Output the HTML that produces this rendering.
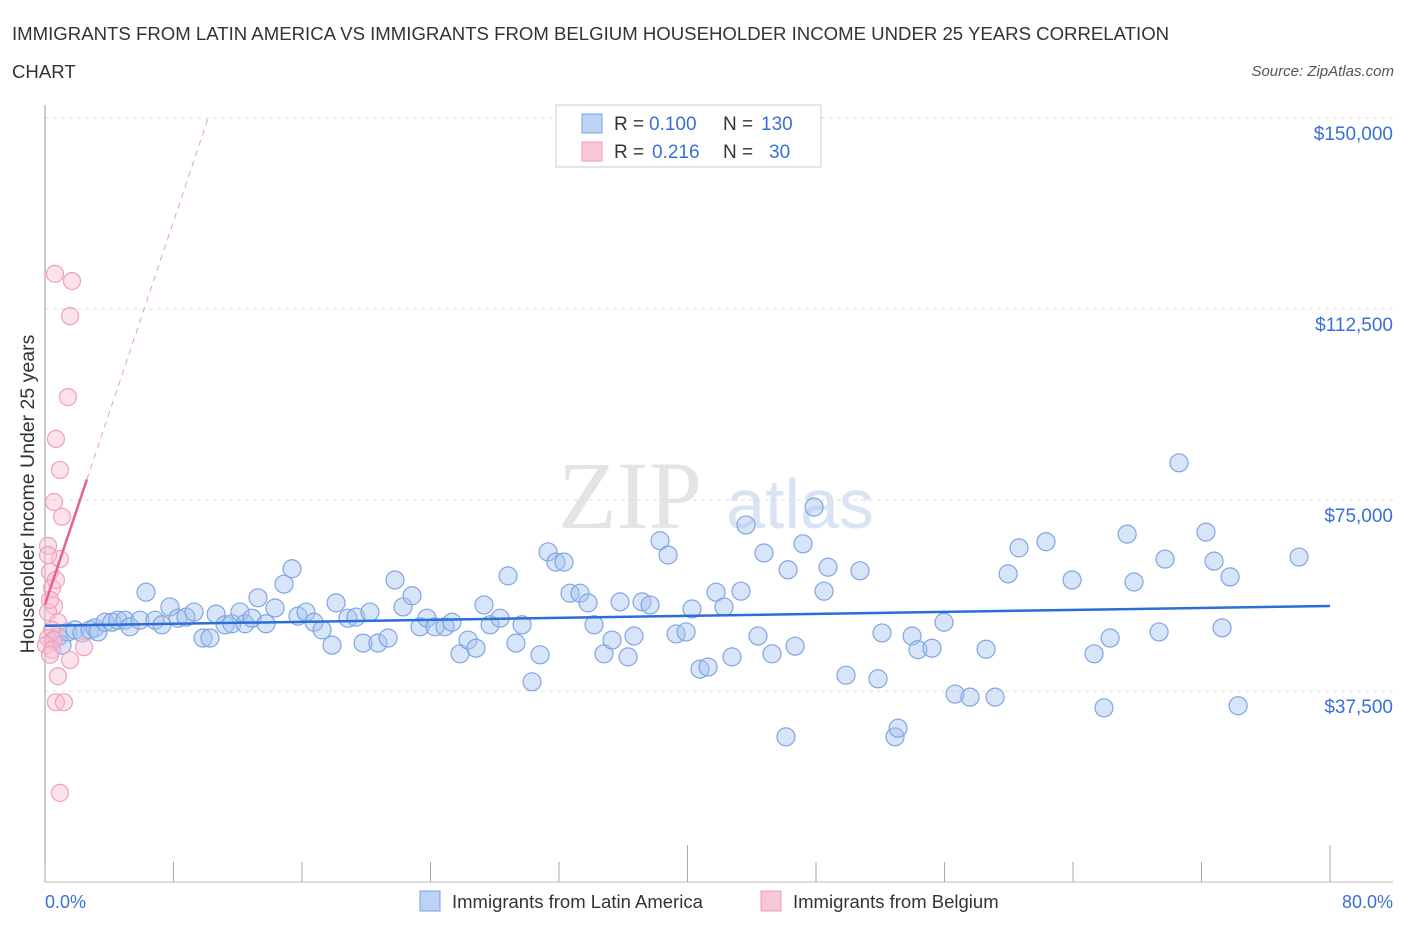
<!DOCTYPE html>
<html><head><meta charset="utf-8"><style>
body{margin:0;background:#fff;font-family:"Liberation Sans",sans-serif;}
svg text{font-family:"Liberation Sans",sans-serif;}
</style></head><body>
<svg id="chart" width="1406" height="930">
<text x="12" y="40" font-size="18.6" fill="#333">IMMIGRANTS FROM LATIN AMERICA VS IMMIGRANTS FROM BELGIUM HOUSEHOLDER INCOME UNDER 25 YEARS CORRELATION</text>
<text x="12" y="78" font-size="18.6" fill="#333">CHART</text>
<text x="1394" y="76" font-size="15" fill="#555" font-style="italic" text-anchor="end">Source: ZipAtlas.com</text>
<text x="630" y="528" font-size="96" fill="#e4e4e4" text-anchor="middle" style="font-family:'Liberation Serif',serif">ZIP</text>
<text x="800" y="528" font-size="70" fill="#d8e4f4" text-anchor="middle">atlas</text>
<g id="grid"></g>
<g id="axes"></g>
<g id="marks"></g>
<text transform="translate(34,494) rotate(-90)" font-size="19.5" fill="#333" text-anchor="middle">Householder Income Under 25 years</text>
<text x="45" y="908" font-size="18" fill="#3a6fd8">0.0%</text>
<text x="1393" y="908" font-size="18" fill="#3a6fd8" text-anchor="end">80.0%</text>
<g>
<rect x="556" y="105" width="265" height="62" fill="#fff" stroke="#ccc"/>
<rect x="582" y="114" width="20" height="19" fill="#bcd3f5" stroke="#7aa3e0"/>
<rect x="582" y="142" width="20" height="19" fill="#f9c8d8" stroke="#f09ab8"/>
<text x="614" y="130" font-size="19" fill="#333">R =</text>
<text x="649" y="130" font-size="19" fill="#3a6fd8">0.100</text>
<text x="723" y="130" font-size="19" fill="#333">N =</text>
<text x="761" y="130" font-size="19" fill="#3a6fd8">130</text>
<text x="614" y="158" font-size="19" fill="#333">R =</text>
<text x="652" y="158" font-size="19" fill="#3a6fd8">0.216</text>
<text x="723" y="158" font-size="19" fill="#333">N =</text>
<text x="769" y="158" font-size="19" fill="#3a6fd8">30</text>
</g>
<g>
<rect x="420" y="891" width="20" height="20" fill="#bcd3f5" stroke="#7aa3e0"/>
<text x="452" y="908" font-size="18.5" fill="#333">Immigrants from Latin America</text>
<rect x="761" y="891" width="20" height="20" fill="#f9c8d8" stroke="#f09ab8"/>
<text x="793" y="908" font-size="18.5" fill="#333">Immigrants from Belgium</text>
</g>
</svg>
<script>
const yTicks=[37.5,75,112.5,150];
const yTickLabels=["$37,500","$75,000","$112,500","$150,000"];
const xTicks=[0,8,16,24,32,40,48,56,64,72,80];
const blueX=[0.50,0.81,1.06,1.43,1.87,2.30,2.80,3.11,3.30,3.74,4.17,4.54,4.98,5.29,5.91,6.29,6.85,7.28,7.78,8.28,8.78,9.28,9.84,10.27,10.65,11.21,11.64,12.14,12.45,12.89,13.26,13.76,14.32,14.88,15.38,15.75,16.25,16.75,17.25,17.87,18.12,18.86,19.36,19.80,20.23,20.73,21.36,21.79,22.29,22.85,23.35,23.78,24.28,24.90,25.34,25.84,26.34,26.83,27.33,27.71,28.33,28.83,29.32,29.70,30.32,30.82,31.32,31.81,32.31,32.69,33.31,33.81,34.18,34.80,35.30,35.80,36.30,36.67,37.17,37.67,38.29,38.79,39.29,39.91,40.28,40.78,41.28,41.78,42.27,42.77,43.33,43.64,44.39,44.76,45.26,46.13,46.26,46.70,47.19,47.88,48.50,48.75,49.87,50.74,51.86,52.11,52.92,53.11,53.98,54.35,55.22,55.97,56.66,57.59,58.59,59.15,59.96,60.64,62.32,63.94,65.31,65.93,66.31,67.37,67.80,69.73,69.36,70.60,72.28,72.78,73.28,73.78,74.28,78.07];
const blueY=[47.5,48.1,46.5,49.1,49.5,48.9,49.5,49.9,49.1,51.0,51.0,51.4,51.4,50.1,51.4,56.9,51.4,50.5,54.0,51.8,52.0,53.0,47.9,47.9,52.6,50.5,50.7,53.0,50.7,51.8,55.8,50.7,53.8,58.5,61.5,52.2,53.0,51.0,49.5,46.5,54.8,51.8,52.0,46.9,53.0,46.9,47.9,59.3,54.0,56.2,50.1,51.8,50.1,50.1,51.0,44.8,47.5,45.9,54.4,50.5,51.8,60.1,46.9,50.5,39.3,44.6,64.8,62.8,62.8,56.7,56.7,54.8,50.5,44.8,47.5,55.0,44.2,48.3,55.0,54.4,67.0,64.2,48.7,49.1,53.6,41.8,42.2,56.9,54.0,44.2,57.1,70.1,48.3,64.6,44.8,28.5,61.3,46.3,66.4,73.6,57.1,61.8,40.6,61.1,39.9,48.9,28.5,30.2,48.3,45.6,45.9,51.0,36.9,36.3,45.7,36.3,60.5,65.6,66.8,59.3,44.8,34.2,47.9,68.3,58.9,63.4,49.1,82.3,68.7,63.0,49.9,59.9,34.6,63.8];
const pinkX=[0.62,1.68,1.56,1.43,0.68,0.93,0.56,1.06,0.19,0.93,0.31,0.44,0.56,0.19,0.81,0.44,0.19,0.56,0.06,0.44,0.31,1.56,0.81,2.43,0.68,1.18,0.93,0.19,0.68,0.31];
const pinkY=[119.4,118.0,111.1,95.2,87.0,80.9,74.6,71.7,66.0,63.4,60.9,57.7,54.2,53.0,51.0,49.5,47.9,47.5,46.5,45.6,44.6,43.6,40.4,46.1,35.3,35.3,17.5,64.2,59.3,55.4];
const blueTrend=[50.3,54.2];
const pinkTrend=[54.5,9.4];

const NS="http://www.w3.org/2000/svg";
const X0=45,X1=1330,Y0=882;
function sx(p){return X0+(p/80)*(X1-X0);}
function sy(v){return Y0-v*191/37.5;}
function mk(tag,attrs,parent){const e=document.createElementNS(NS,tag);for(const k in attrs)e.setAttribute(k,attrs[k]);parent.appendChild(e);return e;}
const grid=document.getElementById('grid'),axes=document.getElementById('axes'),marks=document.getElementById('marks');
yTicks.forEach((t,i)=>{
  const l=mk('line',{x1:X0,x2:1393,y1:sy(t),y2:sy(t),stroke:'#ddd','stroke-dasharray':'4,4'},grid);
  
  
  const tx=mk('text',{x:1393,y:sy(t)+22,'font-size':19,fill:'#3a6fd8','text-anchor':'end'},grid);
  tx.textContent=yTickLabels[i];
  
  
});
const ya=mk('line',{x1:X0,x2:X0,y1:105,y2:Y0,stroke:'#999'},axes);


const xa=mk('line',{x1:X0,x2:1393,y1:Y0,y2:Y0,stroke:'#bbb'},axes);


xTicks.forEach(t=>{
  const big=(t===40||t===80);
  const l=mk('line',{x1:sx(t),x2:sx(t),y1:big?845:862,y2:Y0,stroke:'#aaa'},axes);
  
  
});
blueX.forEach((x,i)=>{
  const c=mk('circle',{cx:sx(x),cy:sy(blueY[i]),r:9,fill:'rgba(168,196,240,0.45)',stroke:'#7fa6e2','stroke-width':1.2},marks);
  
  
});
pinkX.forEach((x,i)=>{
  const c=mk('circle',{cx:sx(x),cy:sy(pinkY[i]),r:8.5,fill:'rgba(248,190,210,0.45)',stroke:'#f0a0bc','stroke-width':1.2},marks);
  
  
});
const bt=mk('line',{x1:sx(0),y1:sy(blueTrend[0]),x2:sx(80),y2:sy(blueTrend[1]),stroke:'#2a6fd6','stroke-width':2.5},marks);


const pe=2.61,pd=10.15;
const pt=mk('line',{x1:sx(0),y1:sy(pinkTrend[0]),x2:sx(pe),y2:sy(pinkTrend[0]+pinkTrend[1]*pe),stroke:'#e8608e','stroke-width':2.5},marks);


const pdl=mk('line',{x1:sx(pe),y1:sy(pinkTrend[0]+pinkTrend[1]*pe),x2:sx(pd),y2:sy(pinkTrend[0]+pinkTrend[1]*pd),stroke:'#eaa0b8','stroke-width':1,'stroke-dasharray':'6,5'},marks);


</script>
</body></html>
